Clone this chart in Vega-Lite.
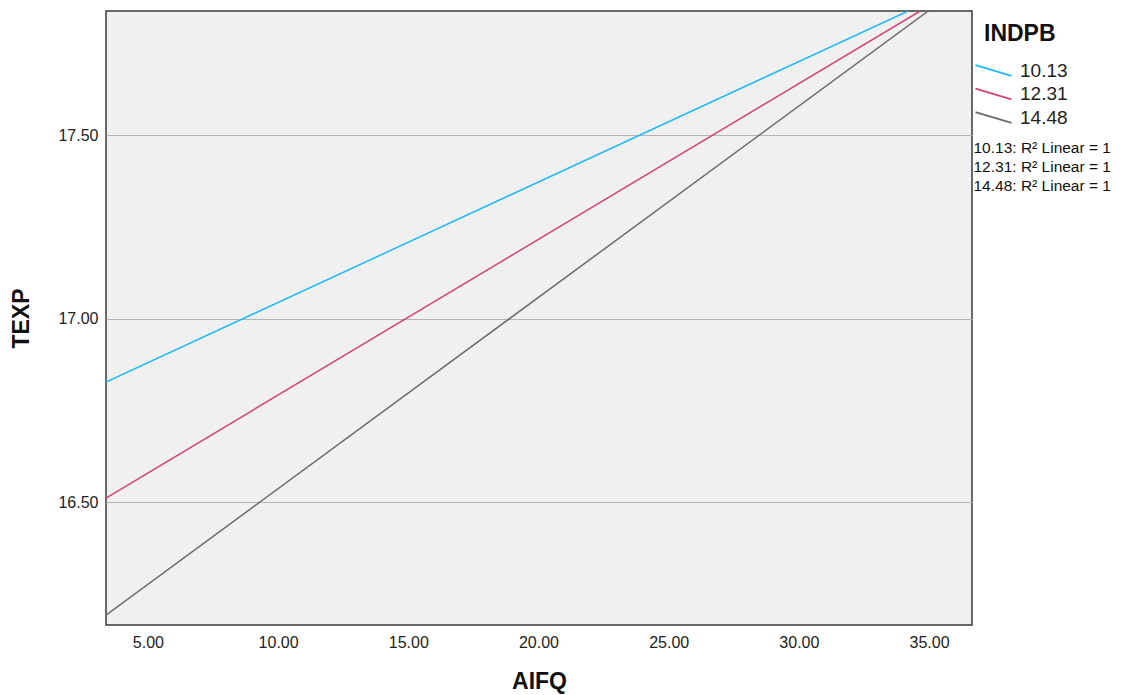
{
  "$schema": "https://vega.github.io/schema/vega-lite/v6.json",
  "width": 866,
  "height": 614,
  "autosize": "none",
  "padding": {"left": 106, "top": 11, "right": 157, "bottom": 70},
  "background": "white",
  "config": {
    "view": {"fill": "#f0f0f0", "stroke": "#3a3a3a", "strokeWidth": 1.5},
    "font": "Liberation Sans"
  },
  "data": {
    "values": [
      {"INDPB": "10.13", "fit": "10.13: R² Linear = 1", "AIFQ": 3.39, "TEXP": 16.827},
      {"INDPB": "10.13", "fit": "10.13: R² Linear = 1", "AIFQ": 34.2, "TEXP": 17.838},
      {"INDPB": "12.31", "fit": "12.31: R² Linear = 1", "AIFQ": 3.39, "TEXP": 16.511},
      {"INDPB": "12.31", "fit": "12.31: R² Linear = 1", "AIFQ": 34.66, "TEXP": 17.838},
      {"INDPB": "14.48", "fit": "14.48: R² Linear = 1", "AIFQ": 3.39, "TEXP": 16.192},
      {"INDPB": "14.48", "fit": "14.48: R² Linear = 1", "AIFQ": 34.97, "TEXP": 17.838}
    ]
  },
  "encoding": {
    "x": {
      "field": "AIFQ", "type": "quantitative",
      "scale": {"domain": [3.39, 36.65], "nice": false, "zero": false},
      "axis": {
        "values": [5, 10, 15, 20, 25, 30, 35], "format": ".2f",
        "grid": false, "domain": false, "ticks": false,
        "labelFontSize": 16, "labelColor": "#222", "labelPadding": 9,
        "title": "AIFQ", "titleFontSize": 23, "titleFontWeight": "bold",
        "titleColor": "#111", "titlePadding": 20
      }
    },
    "y": {
      "field": "TEXP", "type": "quantitative",
      "scale": {"domain": [16.165, 17.838], "nice": false, "zero": false},
      "axis": {
        "values": [16.5, 17, 17.5], "format": ".2f",
        "grid": true, "gridColor": "#b4b4b4", "gridWidth": 1.2,
        "domain": false, "ticks": false,
        "labelFontSize": 16, "labelColor": "#222", "labelPadding": 8,
        "title": "TEXP", "titleFontSize": 23, "titleFontWeight": "bold",
        "titleColor": "#111", "titlePadding": 24
      }
    }
  },
  "layer": [
    {
      "mark": {"type": "line", "strokeWidth": 1.5, "clip": true},
      "encoding": {
        "color": {
          "field": "INDPB", "type": "nominal",
          "scale": {"domain": ["10.13", "12.31", "14.48"], "range": ["#1fb8f6", "#d3456c", "#6b6b6b"]},
          "legend": {
            "orient": "none", "legendX": 878, "legendY": 12,
            "title": "INDPB", "titleFontSize": 23, "titleFontWeight": "bold", "titleColor": "#111",
            "titlePadding": 15,
            "symbolType": "M-2.5,-0.75L2.5,0.75", "symbolSize": 207, "symbolStrokeWidth": 1.8,
            "labelFontSize": 19, "labelColor": "#222", "labelOffset": 17, "rowPadding": 3.5
          }
        }
      }
    },
    {
      "mark": {"type": "point", "opacity": 0},
      "encoding": {
        "shape": {
          "field": "fit", "type": "nominal",
          "legend": {
            "orient": "none", "legendX": 852, "legendY": 129,
            "title": null, "symbolOpacity": 0, "symbolSize": 1, "symbolType": "circle",
            "labelFontSize": 15.5, "labelColor": "#111", "labelOffset": 0, "rowPadding": 2
          }
        }
      }
    }
  ]
}
